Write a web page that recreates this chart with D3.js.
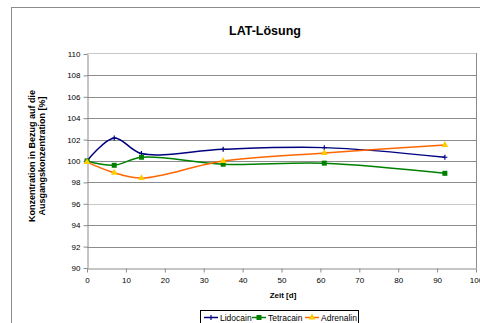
<!DOCTYPE html>
<head>
    <title>LAT-Lösung</title>
    <script src="https://cdn.jsdelivr.net/npm/d3@7"></script>
    <style>
        body { margin: 0; background: #fff; }
        text { font-family: "Liberation Sans", Arial, sans-serif; }
    </style>
</head>
<body>
<div id="container"></div>
<script>

    // Data
    const days = [0, 7, 14, 35, 61, 92];
    const lidocain = [100, 102.15, 100.7, 101.1, 101.25, 100.35];
    const tetracain = [100, 99.6, 100.35, 99.7, 99.8, 98.85];
    const adrenalin = [99.9, 98.9, 98.4, 100.0, 100.75, 101.5];
    const xTicks = [0, 10, 20, 30, 40, 50, 60, 70, 80, 90, 100];
    const yTicks = [90, 92, 94, 96, 98, 100, 102, 104, 106, 108, 110];

    const series = [
        { name: "Lidocain", values: lidocain, color: "#000080", marker: "cross", mcolor: "#000080" },
        { name: "Tetracain", values: tetracain, color: "#008000", marker: "square", mcolor: "#008000" },
        { name: "Adrenalin", values: adrenalin, color: "#ff6600", marker: "triangle", mcolor: "#ffcc00" }
    ];

    const width = 480;
    const height = 323;
    const plot = { left: 87, right: 476, top: 54, bottom: 268 };

    const svg = d3.select("#container")
        .append("svg")
        .attr("width", width)
        .attr("height", height);

    // Outer chart frame
    svg.append("rect")
        .attr("x", 11.5)
        .attr("y", 7.5)
        .attr("width", 500)
        .attr("height", 340)
        .attr("fill", "none")
        .attr("stroke", "#8c8c8c")
        .attr("stroke-width", 1);

    const x = d3.scaleLinear().domain([0, 100]).range([plot.left, plot.right]);
    const y = d3.scaleLinear().domain([90, 110]).range([plot.bottom, plot.top]);

    // Grid lines
    svg.selectAll(".grid")
        .data(yTicks.slice(1, -1))
        .enter()
        .append("line")
        .attr("class", "grid")
        .attr("x1", plot.left)
        .attr("x2", plot.right)
        .attr("y1", d => Math.round(y(d)) + 0.5)
        .attr("y2", d => Math.round(y(d)) + 0.5)
        .attr("stroke", d => d === 96 ? "#c8c8c8" : "#8c8c8c")
        .attr("stroke-width", 1);

    // Plot border (top lighter, right gray)
    svg.append("line")
        .attr("x1", plot.left).attr("x2", plot.right)
        .attr("y1", plot.top - 0.5).attr("y2", plot.top - 0.5)
        .attr("stroke", "#c8c8c8");
    svg.append("line")
        .attr("x1", plot.right + 0.5).attr("x2", plot.right + 0.5)
        .attr("y1", plot.top - 1).attr("y2", plot.bottom)
        .attr("stroke", "#8c8c8c");

    // Axes
    const xAxis = d3.axisBottom(x).tickValues(xTicks).tickSize(4).tickSizeOuter(0);
    const yAxis = d3.axisLeft(y).tickValues(yTicks).tickSize(4).tickSizeOuter(0);

    const gx = svg.append("g")
        .attr("transform", `translate(0, ${Math.round(y(90)) + 0.5})`)
        .call(xAxis);
    const gy = svg.append("g")
        .attr("transform", `translate(${plot.left + 0.5}, 0)`)
        .call(yAxis);

    [gx, gy].forEach(g => {
        g.select(".domain").attr("stroke", "#8c8c8c");
        g.selectAll(".tick line").attr("stroke", "#8c8c8c");
        g.selectAll(".tick text")
            .attr("fill", "#000")
            .style("font-size", "8px")
            .style("font-family", "'Liberation Sans', Arial, sans-serif");
    });
    gx.selectAll(".tick text").attr("dy", "0.9em");

    // Lines
    const line = d3.line()
        .x((d, i) => x(days[i]))
        .y(d => y(d))
        .curve(d3.curveCatmullRom.alpha(0.5));

    svg.append("clipPath").attr("id", "clip")
        .append("rect")
        .attr("x", 0).attr("y", plot.top)
        .attr("width", width).attr("height", plot.bottom - plot.top);

    function drawMarker(g, type, cx, cy, color) {
        if (type === "cross") {
            g.append("path")
                .attr("d", `M${cx - 2.5},${cy}H${cx + 2.5}M${cx},${cy - 2.5}V${cy + 2.5}`)
                .attr("stroke", color)
                .attr("stroke-width", 1.2);
        } else if (type === "square") {
            g.append("rect")
                .attr("x", cx - 2.5).attr("y", cy - 2.5)
                .attr("width", 5).attr("height", 5)
                .attr("fill", color);
        } else {
            g.append("path")
                .attr("d", d3.symbol().type(d3.symbolTriangle).size(20)())
                .attr("transform", `translate(${cx},${cy})`)
                .attr("fill", color);
        }
    }

    series.forEach(s => {
        svg.append("path")
            .datum(s.values)
            .attr("d", line)
            .attr("fill", "none")
            .attr("stroke", s.color)
            .attr("stroke-width", 1.5)
            .attr("clip-path", "url(#clip)");
    });

    series.forEach(s => {
        const g = svg.append("g");
        s.values.forEach((v, i) => drawMarker(g, s.marker, x(days[i]), y(v), s.mcolor));
    });

    // Title
    svg.append("text")
        .attr("x", 265)
        .attr("y", 35)
        .attr("text-anchor", "middle")
        .style("font-size", "12.5px")
        .style("font-weight", "bold")
        .text("LAT-Lösung");

    // X axis title
    svg.append("text")
        .attr("x", 283)
        .attr("y", 298)
        .attr("text-anchor", "middle")
        .style("font-size", "8px")
        .style("font-weight", "bold")
        .text("Zeit [d]");

    // Y axis title (two lines)
    const yt = svg.append("text")
        .attr("transform", `translate(35, 156) rotate(-90)`)
        .attr("text-anchor", "middle")
        .style("font-size", "9px")
        .style("font-weight", "bold");
    yt.append("tspan").attr("x", 0).attr("y", 0).text("Konzentration in Bezug auf die");
    yt.append("tspan").attr("x", 0).attr("y", 10).text("Ausgangskonzentration [%]");

    // Legend
    const legend = svg.append("g");
    legend.append("rect")
        .attr("x", 200.5).attr("y", 310.5)
        .attr("width", 158).attr("height", 20)
        .attr("fill", "#fff")
        .attr("stroke", "#000")
        .attr("stroke-width", 1);

    const legendX = [204, 252, 305];
    series.forEach((s, i) => {
        const lx = legendX[i];
        legend.append("line")
            .attr("x1", lx).attr("x2", lx + 14)
            .attr("y1", 317.5).attr("y2", 317.5)
            .attr("stroke", s.color)
            .attr("stroke-width", 1.5);
        drawMarker(legend, s.marker, lx + 7, 317.5, s.mcolor);
        legend.append("text")
            .attr("x", lx + 16)
            .attr("y", 320.5)
            .style("font-size", "8.5px")
            .text(s.name);
    });

</script>
</body>
